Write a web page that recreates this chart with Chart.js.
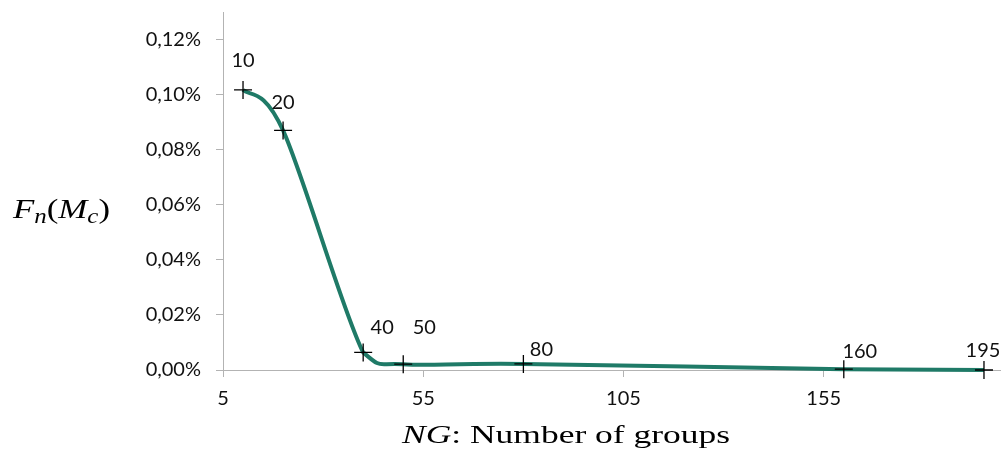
<!DOCTYPE html>
<html>
<head>
<meta charset="utf-8">
<script src="https://cdn.jsdelivr.net/npm/chart.js@4.4.0/dist/chart.umd.min.js"></script>
<style>
  html, body { margin: 0; padding: 0; background: #fff; }
  canvas { display: block; }
</style>
</head>
<body>
<canvas id="grafico" width="1001" height="457"></canvas>
<script>
// values (y in %)
const groups = [10, 20, 40, 50, 80, 160, 195];
const fnValues = [0.1017, 0.0870, 0.0064, 0.0021, 0.0022, 0.0003, 0.0000];
const pointLabels = ['10', '20', '40', '50', '80', '160', '195'];
const xTicks = [5, 55, 105, 155];
const yTicks = [0, 0.02, 0.04, 0.06, 0.08, 0.10, 0.12];

// where each data label sits relative to its point
const labelOffsets = [[0, -29], [0, -28], [19, -25], [21, -37], [18, -14], [16, -18], [-1, -19]];

const tickFont = { family: 'Lato', size: 20 };
const axisGrey = '#b3b3b3';

// draw text made of parts, squeezed/stretched to a target width
function drawMath(ctx, parts, x, baseline, targetWidth) {
  let w = 0;
  parts.forEach(p => { ctx.font = p.font; w += ctx.measureText(p.text).width; });
  ctx.save();
  ctx.translate(x, baseline);
  ctx.scale(targetWidth / w, 1);
  let cx = 0;
  parts.forEach(p => {
    ctx.font = p.font;
    ctx.fillText(p.text, cx, p.dy || 0);
    cx += ctx.measureText(p.text).width;
  });
  ctx.restore();
}

// spreadsheet-style smoothing: control points at +-(next - prev)/6
const smoothPlugin = {
  id: 'smooth',
  beforeDatasetDraw(chart, args) {
    const line = args.meta.dataset;
    const pts = args.meta.data;
    const area = chart.chartArea;
    line.updateControlPoints(area);
    for (let i = 0; i < pts.length; i++) {
      const prev = pts[i - 1] || pts[i];
      const next = pts[i + 1] || pts[i];
      const dx = (next.x - prev.x) / 6;
      const dy = (next.y - prev.y) / 6;
      pts[i].cp1x = pts[i].x - dx;
      pts[i].cp1y = Math.min(pts[i].y - dy, area.bottom);
      pts[i].cp2x = pts[i].x + dx;
      pts[i].cp2y = Math.min(pts[i].y + dy, area.bottom);
    }
  }
};

const labelsPlugin = {
  id: 'labels',
  afterDatasetsDraw(chart) {
    const ctx = chart.ctx;
    const meta = chart.getDatasetMeta(0);
    ctx.save();
    ctx.fillStyle = '#111';
    ctx.font = tickFont.size + 'px ' + tickFont.family;
    ctx.textAlign = 'center';
    ctx.textBaseline = 'middle';
    meta.data.forEach((pt, i) => {
      ctx.fillText(pointLabels[i], pt.x + labelOffsets[i][0], pt.y + labelOffsets[i][1]);
    });
    ctx.restore();
  },
  afterDraw(chart) {
    const ctx = chart.ctx;
    ctx.save();
    ctx.fillStyle = '#000';
    ctx.textBaseline = 'alphabetic';
    const it = 'italic 28px "Liberation Serif"';
    const itSmall = 'italic 20px "Liberation Serif"';
    const rm = '28px "Liberation Serif"';
    drawMath(ctx, [
      { text: 'F', font: it },
      { text: 'n', font: itSmall, dy: 5 },
      { text: '(', font: rm },
      { text: 'M', font: it },
      { text: 'c', font: itSmall, dy: 5 },
      { text: ')', font: rm }
    ], 13, 218, 97);
    drawMath(ctx, [
      { text: 'NG', font: 'italic 26px "Liberation Serif"' },
      { text: ': Number of groups', font: '26px "Liberation Serif"' }
    ], 402, 443, 328);
    ctx.restore();
  }
};

new Chart(document.getElementById('grafico').getContext('2d'), {
  type: 'line',
  data: {
    datasets: [{
      data: groups.map((g, i) => ({ x: g, y: fnValues[i] })),
      borderColor: '#1f7a67',
      borderWidth: 4,
      tension: 0.4,
      fill: false,
      clip: false,
      pointStyle: 'cross',
      pointRadius: 9,
      pointHoverRadius: 9,
      pointBorderColor: '#000',
      pointBorderWidth: 1.3
    }]
  },
  options: {
    responsive: false,
    animation: false,
    layout: { autoPadding: false, padding: { left: 0, right: 1, top: 12, bottom: 0 } },
    plugins: {
      legend: { display: false },
      tooltip: { enabled: false }
    },
    scales: {
      x: {
        type: 'linear',
        min: 5,
        max: 199,
        afterBuildTicks: scale => { scale.ticks = xTicks.map(v => ({ value: v })); },
        afterFit: scale => { scale.height = 87; scale.paddingLeft = 0; scale.paddingRight = 0; },
        border: { color: axisGrey, width: 1 },
        grid: { drawOnChartArea: false, drawTicks: true, tickLength: 7, color: axisGrey },
        ticks: { font: tickFont, color: '#111', padding: 10, maxRotation: 0 }
      },
      y: {
        min: 0,
        max: 0.13,
        afterBuildTicks: scale => { scale.ticks = yTicks.map(v => ({ value: v })); },
        afterFit: scale => { scale.width = 223; scale.paddingTop = 0; scale.paddingBottom = 0; },
        border: { color: axisGrey, width: 1 },
        grid: { drawOnChartArea: false, drawTicks: true, tickLength: 7, color: axisGrey },
        ticks: {
          font: tickFont,
          color: '#111',
          padding: 15,
          callback: v => v.toFixed(2).replace('.', ',') + '%'
        }
      }
    }
  },
  plugins: [smoothPlugin, labelsPlugin]
});
</script>
</body>
</html>
